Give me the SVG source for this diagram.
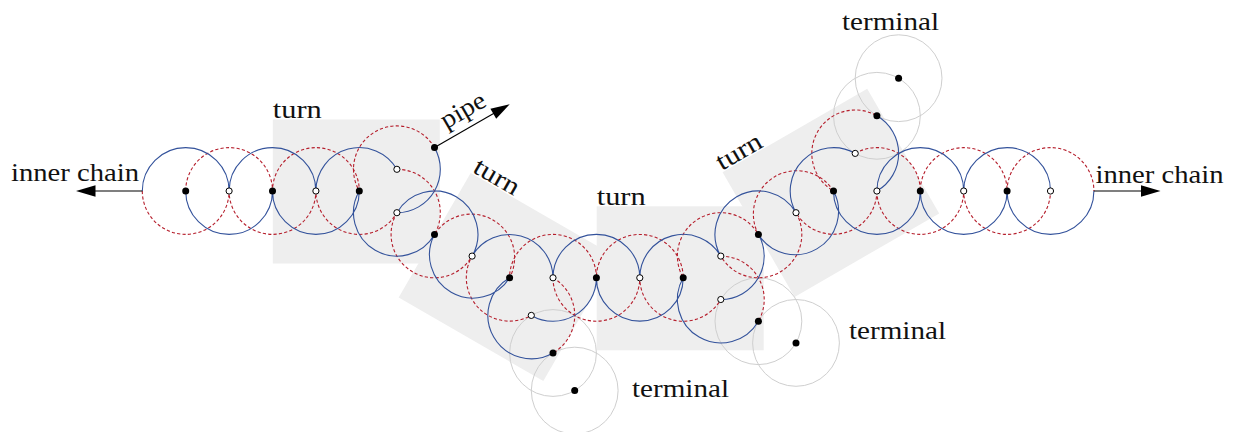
<svg xmlns="http://www.w3.org/2000/svg" width="1234" height="432" viewBox="0 0 1234 432">
  <style>
    .bg{fill:#eeeeee}
    .blue{fill:none;stroke:#33529b;stroke-width:1.1}
    .red{fill:none;stroke:#b51d2b;stroke-width:1.1;stroke-dasharray:3.2 2.2}
    .term{fill:none;stroke:#cfcfcf;stroke-width:1}
    .full{fill:#000}
    .hollow{fill:#fff;stroke:#000;stroke-width:1}
    .lbl{font-size:26px;fill:#111}
    .conn{stroke:#000;stroke-width:1.1;fill:none}
    .head{fill:#000}
  </style>
  <rect width="1234" height="432" fill="#fff"/>

  <!-- turn gadgets: shaded regions with labels -->
  <g font-family="'Liberation Serif', 'Times New Roman', serif">
    <g id="turn-1" transform="translate(356.3,191.5)">
      <rect class="bg" x="-83.5" y="-72" width="167" height="144"/>
      <text class="lbl" x="-83.5" y="-73.5" textLength="49" lengthAdjust="spacingAndGlyphs">turn</text>
    </g>
    <g id="turn-2" transform="translate(507,277) rotate(30)">
      <rect class="bg" x="-83.5" y="-72" width="167" height="144"/>
      <text class="lbl" x="-83.5" y="-73.5" textLength="49" lengthAdjust="spacingAndGlyphs">turn</text>
    </g>
    <g id="turn-4" transform="translate(830.9,192.8) rotate(-30)">
      <rect class="bg" x="-83.5" y="-72" width="167" height="144"/>
      <text class="lbl" x="-83.5" y="-73.5" textLength="49" lengthAdjust="spacingAndGlyphs">turn</text>
    </g>
    <g id="turn-3" transform="translate(680.2,278.3)">
      <rect class="bg" x="-83.5" y="-72" width="167" height="144"/>
      <text class="lbl" x="-83.5" y="-73.5" textLength="49" lengthAdjust="spacingAndGlyphs">turn</text>
    </g>
  </g>

  <!-- terminal disks -->
  <g id="terminals">
    <circle class="term" cx="553" cy="353" r="43.4"/>
    <circle class="term" cx="574.7" cy="390.6" r="43.4"/>
    <circle class="term" cx="758.4" cy="321.2" r="43.4"/>
    <circle class="term" cx="796" cy="342.9" r="43.4"/>
    <circle class="term" cx="876.9" cy="115.8" r="43.4"/>
    <circle class="term" cx="898.6" cy="78.2" r="43.4"/>
  </g>

  <!-- dashed halves of the disks -->
  <g id="dashed-arcs">
    <path class="red" d="M142.3,191 A43.4 43.4 0 0 0 229.1,191 A43.4 43.4 0 0 0 315.9,191 A43.4 43.4 0 0 0 396.9,212.7"/>
    <path class="red" d="M185.7,191 A43.4 43.4 0 0 1 272.5,191 A43.4 43.4 0 0 1 359.3,191 A43.4 43.4 0 0 1 434.5,147.6"/>
    <path class="red" d="M396.9,169.3 A43.4 43.4 0 0 1 434.5,234.4 A43.4 43.4 0 0 1 509.6,277.8 A43.4 43.4 0 0 1 596.4,277.8 A43.4 43.4 0 0 1 683.2,277.8 A43.4 43.4 0 0 1 758.4,234.4 A43.4 43.4 0 0 1 833.5,191 A43.4 43.4 0 0 1 876.9,115.8"/>
    <path class="red" d="M396.9,212.7 A43.4 43.4 0 0 0 472.1,256.1 A43.4 43.4 0 0 0 531.3,315.4"/>
    <path class="red" d="M553,277.8 A43.4 43.4 0 0 1 553,353"/>
    <path class="red" d="M553,277.8 A43.4 43.4 0 0 0 639.8,277.8 A43.4 43.4 0 0 0 720.8,299.5"/>
    <path class="red" d="M720.8,256.1 A43.4 43.4 0 0 1 758.4,321.2"/>
    <path class="red" d="M876.9,191 A43.4 43.4 0 0 1 796,212.7 A43.4 43.4 0 0 1 720.8,256.1"/>
    <path class="red" d="M855.2,153.4 A43.4 43.4 0 0 1 920.3,191 A43.4 43.4 0 0 1 1007.1,191 A43.4 43.4 0 0 1 1093.9,191"/>
    <path class="red" d="M876.9,191 A43.4 43.4 0 0 0 963.7,191 A43.4 43.4 0 0 0 1050.5,191"/>
  </g>

  <!-- solid halves of the disks -->
  <g id="solid-arcs">
    <path class="blue" d="M142.3,191 A43.4 43.4 0 0 1 229.1,191 A43.4 43.4 0 0 1 315.9,191 A43.4 43.4 0 0 1 396.9,169.3"/>
    <path class="blue" d="M185.7,191 A43.4 43.4 0 0 0 272.5,191 A43.4 43.4 0 0 0 359.3,191 A43.4 43.4 0 0 0 434.5,234.4 A43.4 43.4 0 0 0 509.6,277.8 A43.4 43.4 0 0 0 553,353"/>
    <path class="blue" d="M434.5,147.6 A43.4 43.4 0 0 1 396.9,212.7 A43.4 43.4 0 0 1 472.1,256.1 A43.4 43.4 0 0 1 553,277.8 A43.4 43.4 0 0 1 639.8,277.8 A43.4 43.4 0 0 1 720.8,256.1 A43.4 43.4 0 0 1 796,212.7 A43.4 43.4 0 0 1 855.2,153.4"/>
    <path class="blue" d="M531.3,315.4 A43.4 43.4 0 0 0 596.4,277.8 A43.4 43.4 0 0 0 683.2,277.8 A43.4 43.4 0 0 0 758.4,321.2"/>
    <path class="blue" d="M720.8,299.5 A43.4 43.4 0 0 0 758.4,234.4 A43.4 43.4 0 0 0 833.5,191 A43.4 43.4 0 0 0 920.3,191 A43.4 43.4 0 0 0 1007.1,191 A43.4 43.4 0 0 0 1093.9,191"/>
    <path class="blue" d="M876.9,115.8 A43.4 43.4 0 0 1 876.9,191 A43.4 43.4 0 0 1 963.7,191 A43.4 43.4 0 0 1 1050.5,191"/>
  </g>

  <!-- arrows -->
  <g id="connectors">
    <line class="conn" x1="142.3" y1="191" x2="94" y2="191"/>
    <polygon class="head" points="76,191 95.5,185.2 95.5,196.8"/>
    <line class="conn" x1="1093.9" y1="191" x2="1142" y2="191"/>
    <polygon class="head" points="1160.5,191 1141,185.2 1141,196.8"/>
    <line class="conn" x1="434.5" y1="147.6" x2="494" y2="113.3"/>
    <polygon class="head" points="509.7,104.2 496.2,118.7 490.4,108.7"/>
  </g>

  <!-- disk centres -->
  <g id="centres-filled">
    <circle class="full" cx="185.7" cy="191" r="3.5"/>
    <circle class="full" cx="272.5" cy="191" r="3.5"/>
    <circle class="full" cx="359.3" cy="191" r="3.5"/>
    <circle class="full" cx="434.5" cy="147.6" r="3.5"/>
    <circle class="full" cx="434.5" cy="234.4" r="3.5"/>
    <circle class="full" cx="509.6" cy="277.8" r="3.5"/>
    <circle class="full" cx="596.4" cy="277.8" r="3.5"/>
    <circle class="full" cx="683.2" cy="277.8" r="3.5"/>
    <circle class="full" cx="553" cy="353" r="3.5"/>
    <circle class="full" cx="574.7" cy="390.6" r="3.5"/>
    <circle class="full" cx="758.4" cy="234.4" r="3.5"/>
    <circle class="full" cx="758.4" cy="321.2" r="3.5"/>
    <circle class="full" cx="796" cy="342.9" r="3.5"/>
    <circle class="full" cx="833.5" cy="191" r="3.5"/>
    <circle class="full" cx="920.3" cy="191" r="3.5"/>
    <circle class="full" cx="1007.1" cy="191" r="3.5"/>
    <circle class="full" cx="876.9" cy="115.8" r="3.5"/>
    <circle class="full" cx="898.6" cy="78.2" r="3.5"/>
  </g>
  <g id="centres-open">
    <circle class="hollow" cx="229.1" cy="191" r="3.1"/>
    <circle class="hollow" cx="315.9" cy="191" r="3.1"/>
    <circle class="hollow" cx="396.9" cy="169.3" r="3.1"/>
    <circle class="hollow" cx="396.9" cy="212.7" r="3.1"/>
    <circle class="hollow" cx="472.1" cy="256.1" r="3.1"/>
    <circle class="hollow" cx="553" cy="277.8" r="3.1"/>
    <circle class="hollow" cx="639.8" cy="277.8" r="3.1"/>
    <circle class="hollow" cx="531.3" cy="315.4" r="3.1"/>
    <circle class="hollow" cx="720.8" cy="256.1" r="3.1"/>
    <circle class="hollow" cx="720.8" cy="299.5" r="3.1"/>
    <circle class="hollow" cx="796" cy="212.7" r="3.1"/>
    <circle class="hollow" cx="876.9" cy="191" r="3.1"/>
    <circle class="hollow" cx="963.7" cy="191" r="3.1"/>
    <circle class="hollow" cx="1050.5" cy="191" r="3.1"/>
    <circle class="hollow" cx="855.2" cy="153.4" r="3.1"/>
  </g>

  <!-- labels -->
  <g font-family="'Liberation Serif', 'Times New Roman', serif">
    <g id="label-inner-left"><text class="lbl" x="11" y="180.5" textLength="128" lengthAdjust="spacingAndGlyphs">inner chain</text></g>
    <g id="label-inner-right"><text class="lbl" x="1095.5" y="183" textLength="128" lengthAdjust="spacingAndGlyphs">inner chain</text></g>
    <g id="label-pipe"><text class="lbl" transform="translate(467.1,117.2) rotate(-30)" text-anchor="middle" textLength="48" lengthAdjust="spacingAndGlyphs">pipe</text></g>
    <g id="label-terminal-top"><text class="lbl" x="842" y="29.5" textLength="97" lengthAdjust="spacingAndGlyphs">terminal</text></g>
    <g id="label-terminal-right"><text class="lbl" x="849" y="338.5" textLength="97" lengthAdjust="spacingAndGlyphs">terminal</text></g>
    <g id="label-terminal-bottom"><text class="lbl" x="632" y="397" textLength="97" lengthAdjust="spacingAndGlyphs">terminal</text></g>
  </g>
</svg>
